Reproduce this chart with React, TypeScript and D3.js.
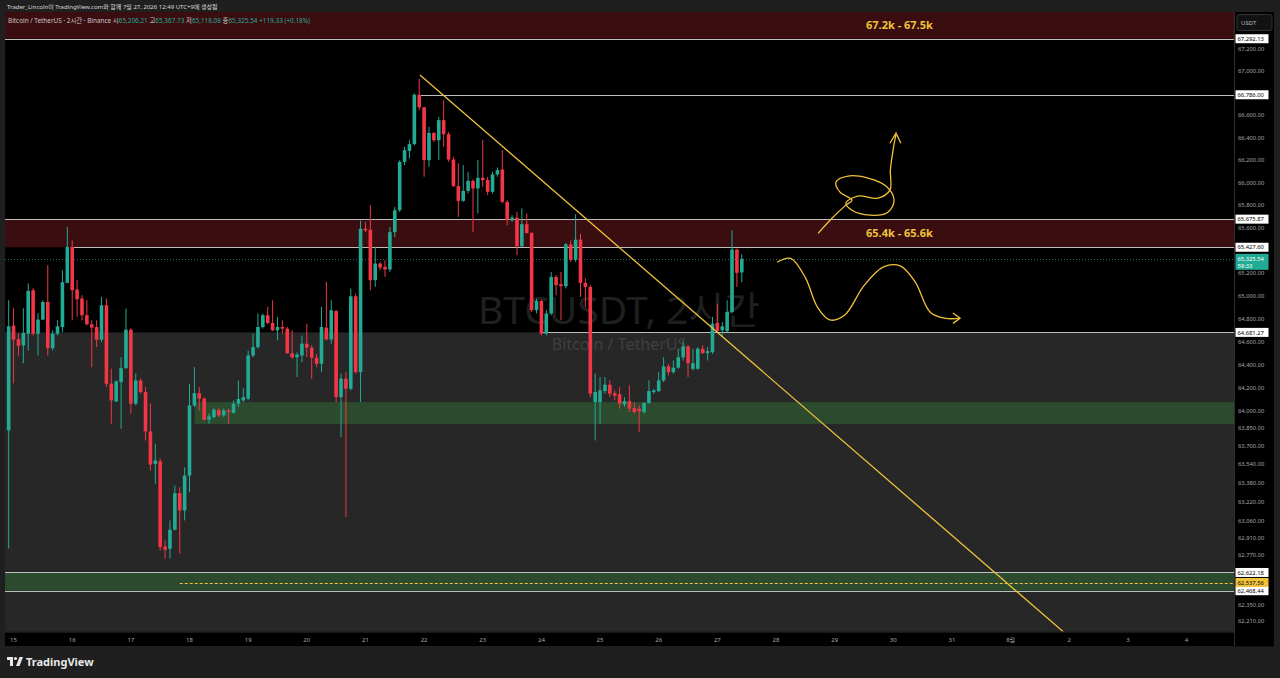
import React from 'react';
import * as d3 from 'd3';

// ---------- DATA ----------
// 2h candles, first candle starts at July 14 22:00 (hour -2 relative to July 15 00:00)
const FIRST_HOUR = -2;
const opens = [63833,64740,64623,64568,64670,65050,64670,64793,64947,64544,64670,64728,65114,65430,65056,64977,64831,64752,64728,64618,64918,64236,64083,64249,64370,64705,64063,64264,64163,63824,63545,63568,62842,62822,62984,63295,63148,63445,64048,64154,64106,63925,63947,64011,63962,64005,63982,64063,64091,64106,64480,64553,64728,64831,64763,64699,64728,64714,64500,64465,64480,64583,64548,64460,64408,64723,64620,64868,64120,64279,64192,64997,64336,65591,65582,65138,65284,65255,65232,65561,65755,66185,66283,66343,66786,66673,66200,66443,66378,66558,66432,66206,65969,65838,65927,66016,65948,66043,66022,65918,66073,66117,65829,65666,65690,65436,65631,65553,64875,64956,64670,64846,65167,65103,65085,65453,65317,65494,65114,65079,64077,64077,64172,64227,64154,64143,64057,64085,64025,64020,63991,64068,64163,64172,64264,64385,64336,64374,64465,64559,64365,64365,64539,64500,64509,64763,64699,64693,64860,65407,65206.21];
const highs = [64962,64892,64673,64892,65111,65068,64848,64962,65269,64699,64787,65225,65607,65488,65138,65006,64962,64787,64787,64991,64977,64365,64264,64465,64889,64717,64324,64281,64206,64066,63718,63591,62893,63063,63360,63346,63516,64236,64379,64206,64120,63979,64022,64022,64022,64022,64091,64264,64195,64523,64670,64846,64846,64904,64962,64816,64787,64728,64699,64508,64655,64758,64568,64495,64904,65123,64962,64875,64322,64336,65065,65021,65664,65650,65800,65430,65298,65313,65605,65785,66200,66319,66378,66799,66928,66678,66498,66452,66588,66738,66452,66230,66171,66156,66096,66028,66200,66384,66052,66096,66135,66289,65844,65711,65740,65770,65726,65562,64977,64968,64875,65210,65182,65210,65465,65488,65720,65547,65153,65094,64322,64293,64293,64264,64178,64206,64120,64221,64077,64048,64077,64264,64192,64336,64465,64408,64437,64538,64611,64568,64538,64553,64568,64553,64816,64933,64772,64962,65576,65416,65367.73];
const lows = [62825,64238,64480,64413,64523,64655,64480,64787,64480,64523,64655,64684,65111,64787,64816,64787,64743,64379,64553,64597,64206,63890,64077,63847,64365,63977,64048,64149,63746,63488,63375,62808,62737,62740,62978,62782,63063,63303,64034,64005,63919,63890,63936,63947,63947,63890,63979,64034,64077,64091,64465,64539,64714,64752,64693,64611,64670,64495,64451,64293,64422,64465,64278,64379,64336,64611,64583,64077,63775,63091,64178,64322,64077,65561,65050,65079,65225,65167,65210,65517,65740,66156,66215,66334,66648,66052,66141,66363,66200,66319,66185,65963,65696,65829,65904,65562,65726,65963,65889,65904,66052,65815,65622,65651,65357,65430,65548,64860,64846,64655,64655,64831,65006,64787,65065,65298,65298,64991,64904,64120,63746,63890,64149,64120,64091,64020,64034,63991,63977,63818,63977,64063,64149,64163,64249,64307,64322,64365,64437,64293,64351,64356,64495,64437,64495,64684,64640,64684,64846,65079,65118.08];
const closes = [64734,64618,64565,64676,65044,64670,64793,64947,64544,64670,64734,65120,65430,65050,64971,64831,64752,64723,64618,64918,64236,64091,64255,64370,64705,64063,64264,64163,63824,63539,63574,62836,62814,62984,63295,63148,63445,64048,64154,64106,63925,63953,64011,63962,64005,63991,64063,64103,64120,64480,64553,64728,64831,64763,64699,64728,64714,64500,64465,64488,64583,64548,64460,64408,64728,64620,64875,64120,64279,64192,64997,64336,65591,65576,65138,65284,65249,65232,65561,65755,66185,66289,66343,66786,66673,66200,66443,66378,66558,66432,66206,65969,65838,65927,66016,65948,66043,66022,65918,66073,66111,65829,65666,65690,65436,65631,65553,64875,64956,64670,64846,65167,65094,65085,65453,65317,65494,65114,65079,64149,64163,64178,64227,64149,64132,64063,64085,64020,63991,63999,64068,64172,64178,64264,64385,64336,64374,64465,64559,64413,64413,64539,64500,64518,64758,64693,64734,64860,65407,65202,65325.54];

const dayLabels = ['15','16','17','18','19','20','21','22','23','24','25','26','27','28','29','30','31','8월','2','3','4'];
const priceTicks = [67200,67000,66600,66400,66200,66000,65800,65600,65200,65000,64800,64600,64400,64200,64000,63850,63700,63540,63380,63220,63060,62910,62770,62350,62210];

// zones [low, high, fromHour]
const redZones = [[67292.13, 67600, null], [65427.60, 65675.87, null]];
const greenZones = [[63887, 64077, 74], [62468.44, 62622.18, null]];
const grayBoxTop = 64681.27;
// horizontal lines [price, fromHour]
const hLines = [[67292.13, null], [66786.00, 166], [65675.87, null], [65427.60, 24], [64681.27, 216], [62622.18, null], [62468.44, null]];
const dashedLine = [62537.56, 68];
const whiteLabels = [67292.13, 66786.00, 65675.87, 65427.60, 64681.27, 62622.18, 62468.44];
const lastPrice = 65325.54;

const trendLine = [[166.3, 66964], [430.3, 62111]];
const wave = [[312.4,65296],[318,65330],[324,65160],[329,64900],[334,64790],[340,64830],[348,65090],[356,65255],[363,65262],[369,65120],[375,64860],[381,64805],[387.3,64804]];
const waveHead = [[384.4,64850],[387.3,64804],[384.4,64760]];
const lasso = [[329.2,65550],[334.9,65684],[340.6,65800],[343.1,65844],[338.2,65915],[336.5,66004],[341.5,66058],[349.6,66040],[357.0,65969],[360.3,65844],[357.8,65737],[350.5,65711],[343.1,65755],[340.6,65818],[345.5,65880],[353.7,65862],[358.6,65933],[358.8,66111],[359.9,66289],[361.1,66432]];
const lassoHead = [[358.6,66351],[361.1,66441],[363.1,66351]];
const zoneLabels = [['67.2k - 67.5k', 362.5, 67420], ['65.4k - 65.6k', 362.5, 65550]];

// ---------- LAYOUT ----------
const W = 1280, H = 678;
const PL = 5, PR = 1234, PT = 12, PB = 631.5;
const AX_R = 1274;
const PX_PER_HOUR = 58.65 / 24;
const X0 = 13.56; // x of July 15 00:00
const H0 = (PL - X0) / PX_PER_HOUR, H1 = (PR - X0) / PX_PER_HOUR;
const P_MIN = 62126, P_MAX = 67535;

const GREEN = '#22ab94', RED = '#f23645', YEL = '#f0c23a';
const FONT = '"Noto Sans", "Noto Sans CJK KR", sans-serif';

export default function App() {
  const x = d3.scaleLinear().domain([H0, H1]).range([PL, PR]);
  const y = d3.scaleLog().domain([P_MIN, P_MAX]).range([PB, PT]);
  const fmt = d3.format(',.2f');
  const line = d3.line<number[]>().x(d => x(d[0])).y(d => y(d[1]));
  const curve = d3.line<number[]>().x(d => x(d[0])).y(d => y(d[1])).curve(d3.curveCatmullRom.alpha(0.5));

  const candles = opens.map((o, i) => ({ h: FIRST_HOUR + 2 * i, o, hi: highs[i], lo: lows[i], c: closes[i] }));
  const bw = 3.6;

  const fromX = (h: number | null) => (h == null ? PL : x(h));

  return (
    <svg width={W} height={H} style={{ position: 'fixed', left: 0, top: 0, display: 'block', background: '#1f1f1f' }} fontFamily={FONT}>
      <defs>
        <clipPath id="plot"><rect x={PL} y={PT} width={PR - PL} height={PB - PT} /></clipPath>
      </defs>
      <rect x={0} y={0} width={W} height={H} fill="#1f1f1f" />
      <text x={7} y={8.5} fontSize={6} fill="#d8d8d8">Trader_Lincoln이 TradingView.com와 함께 7월 27, 2026 12:49 UTC+9에 생성됨</text>

      {/* plot background */}
      <rect x={PL} y={PT} width={PR - PL} height={PB - PT} fill="#000" />
      <g clipPath="url(#plot)">
        <rect x={PL} y={y(grayBoxTop)} width={PR - PL} height={PB - y(grayBoxTop)} fill="#272727" />
        {redZones.map((z, i) => (
          <rect key={'rz' + i} x={fromX(z[2] as any)} y={y(z[1] as number)} width={PR - fromX(z[2] as any)} height={y(z[0] as number) - y(z[1] as number)} fill="#3a0d11" />
        ))}
        {greenZones.map((z, i) => (
          <rect key={'gz' + i} x={fromX(z[2] as any)} y={y(z[1] as number)} width={PR - fromX(z[2] as any)} height={y(z[0] as number) - y(z[1] as number)} fill="#2b4a2e" />
        ))}
        {/* watermark */}
        <text x={619} y={324} fontSize={38} fill="#fff" opacity={0.12} textAnchor="middle" textLength={282} lengthAdjust="spacingAndGlyphs">BTCUSDT, 2시간</text>
        <text x={619} y={350} fontSize={16} fill="#fff" opacity={0.1} textAnchor="middle">Bitcoin / TetherUS</text>
        {hLines.map((l, i) => (
          <line key={'hl' + i} x1={fromX(l[1] as any)} x2={PR} y1={Math.round(y(l[0] as number)) + 0.5} y2={Math.round(y(l[0] as number)) + 0.5} stroke="#bdbdbd" strokeWidth={1} />
        ))}
        <line x1={fromX(dashedLine[1])} x2={PR} y1={Math.round(y(dashedLine[0])) + 0.5} y2={Math.round(y(dashedLine[0])) + 0.5} stroke={YEL} strokeDasharray="3,2" strokeWidth={1} />
        <line x1={PL} x2={PR} y1={Math.round(y(lastPrice)) + 0.5} y2={Math.round(y(lastPrice)) + 0.5} stroke="#2a6f63" strokeDasharray="1,2" strokeWidth={1} />

        {/* candles */}
        {candles.map((d, i) => {
          const cx = x(d.h);
          const up = d.c >= d.o;
          const col = up ? GREEN : RED;
          const top = y(Math.max(d.o, d.c));
          const bot = y(Math.min(d.o, d.c));
          return (
            <g key={'c' + i}>
              <line x1={cx} x2={cx} y1={y(d.hi)} y2={y(d.lo)} stroke={col} strokeWidth={1} />
              <rect x={cx - bw / 2} y={top} width={bw} height={Math.max(1, bot - top)} fill={col} />
            </g>
          );
        })}

        {/* drawings */}
        <path d={line(trendLine as any) || ''} stroke={YEL} strokeWidth={1.3} fill="none" />
        <path d={curve(wave as any) || ''} stroke={YEL} strokeWidth={1.3} fill="none" />
        <path d={line(waveHead as any) || ''} stroke={YEL} strokeWidth={1.3} fill="none" />
        <path d={curve(lasso as any) || ''} stroke={YEL} strokeWidth={1.3} fill="none" />
        <path d={line(lassoHead as any) || ''} stroke={YEL} strokeWidth={1.3} fill="none" />
        {zoneLabels.map((z, i) => (
          <text key={'zl' + i} x={x(z[1] as number)} y={y(z[2] as number) + 4} fontSize={11} fontWeight="bold" fill={YEL} textAnchor="middle">{z[0]}</text>
        ))}
      </g>

      {/* header */}
      <text x={8} y={23} fontSize={6.4} fill="#c8c8c8">
        Bitcoin / TetherUS · 2시간 · Binance  <tspan fill="#c8c8c8">시</tspan><tspan fill={GREEN}>65,206.21</tspan> <tspan>고</tspan><tspan fill={GREEN}>65,367.73</tspan> <tspan>저</tspan><tspan fill={GREEN}>65,118.08</tspan> <tspan>종</tspan><tspan fill={GREEN}>65,325.54</tspan> <tspan fill={GREEN}>+119.33 (+0.18%)</tspan>
      </text>

      {/* right axis */}
      <rect x={PR} y={PT} width={AX_R - PR} height={PB - PT + 15} fill="#000" />
      <line x1={PR + 0.5} x2={PR + 0.5} y1={PT} y2={646} stroke="#2e2e2e" />
      {priceTicks.map((p, i) => (
        <text key={'pt' + i} x={1238} y={y(p) + 2} fontSize={5.8} fill="#a8a8a8">{fmt(p)}</text>
      ))}
      <rect x={1237} y={14.5} width={35} height={16} fill="#121212" stroke="#333" rx={2} />
      <text x={1241} y={25} fontSize={6} fill="#bbb">USDT</text>
      {whiteLabels.map((p, i) => (
        <g key={'wl' + i}>
          <rect x={1235.5} y={y(p) - 4.5} width={33} height={9} fill="#fff" />
          <text x={1237.5} y={y(p) + 2.2} fontSize={5.8} fill="#000">{fmt(p)}</text>
        </g>
      ))}
      <rect x={1235.5} y={y(dashedLine[0]) - 4.5} width={33} height={9} fill={YEL} />
      <text x={1237.5} y={y(dashedLine[0]) + 2.2} fontSize={5.8} fill="#000">{fmt(dashedLine[0])}</text>
      <rect x={1235.5} y={y(lastPrice) - 5} width={33} height={16} fill={GREEN} />
      <text x={1237.5} y={y(lastPrice) + 2} fontSize={5.8} fill="#fff">{fmt(lastPrice)}</text>
      <text x={1237.5} y={y(lastPrice) + 9} fontSize={5.8} fill="#fff">59:33</text>

      {/* x axis */}
      <rect x={PL} y={632} width={PR - PL} height={14} fill="#000" />
      <line x1={PL} x2={PR} y1={632} y2={632} stroke="#2e2e2e" />
      {dayLabels.map((lab, i) => (
        <text key={'dl' + i} x={x(i * 24)} y={641.5} fontSize={6} fill="#a8a8a8" textAnchor="middle">{lab}</text>
      ))}

      {/* logo */}
      <g fill="#e8e8e8">
        <rect x={7} y={657} width={6} height={3} />
        <rect x={10} y={657} width={3} height={9} />
        <circle cx={15.5} cy={658.5} r={1.6} />
        <polygon points="16,666 19.5,657 23,657 19.5,666" />
      </g>
      <text x={26} y={666} fontSize={11} fontWeight="bold" fill="#e8e8e8">TradingView</text>
    </svg>
  );
}
